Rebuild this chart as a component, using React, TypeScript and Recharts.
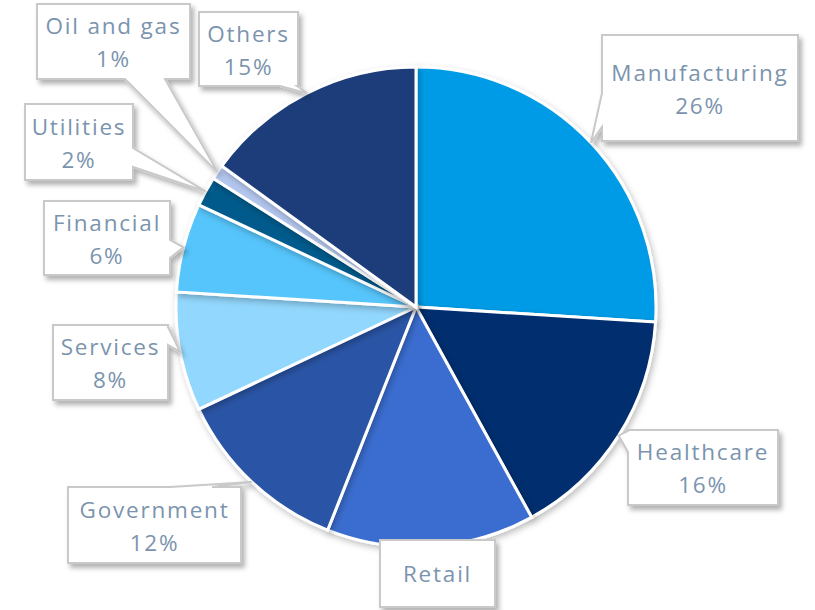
import React from 'react';
import { PieChart, Pie, Cell } from 'recharts';

const industries = ['Manufacturing', 'Healthcare', 'Retail', 'Government', 'Services', 'Financial', 'Utilities', 'Oil and gas', 'Others'];
const shares = [26, 16, 14, 12, 8, 6, 2, 1, 15];
const sliceColors = ['#009be6', '#002e6e', '#3a6dd0', '#2b54a6', '#92d7fd', '#57c5fb', '#035a8b', '#b3c6ee', '#1f3d7a'];

// callout boxes: [x0, y0, x1, y1], side the pointer leaves from, pointer base span on that side
const callouts = [
  { box: [602, 35, 798, 141], side: 'left', base: [93, 127], showValue: true },
  { box: [628, 430, 778, 505], side: 'left', base: [431, 452], showValue: true },
  { box: [380, 540, 495, 607], side: 'none', base: [0, 0], showValue: false },
  { box: [68, 487, 241, 563], side: 'top', base: [170, 212], showValue: true },
  { box: [53, 325, 168, 400], side: 'right', base: [327, 345], showValue: true },
  { box: [44, 201, 170, 275], side: 'right', base: [240, 258], showValue: true },
  { box: [25, 104, 133, 180], side: 'right', base: [148, 167], showValue: true },
  { box: [37, 4, 190, 79], side: 'bottom', base: [125, 165], showValue: true },
  { box: [199, 12, 298, 86], side: 'bottom', base: [280, 297], showValue: true },
];

const data = industries.map((name, i) => ({ name, value: shares[i] }));

const RAD = Math.PI / 180;
const textColor = '#7b94ae';
const labelFont = { fontSize: 22.5, letterSpacing: 1.8 };

function bubblePath(box: number[], side: string, base: number[], tx: number, ty: number) {
  const [x0, y0, x1, y1] = box;
  const [a, b] = base;
  let d = `M${x0},${y0}`;
  if (side === 'top') d += ` L${a},${y0} L${tx},${ty} L${b},${y0}`;
  d += ` L${x1},${y0}`;
  if (side === 'right') d += ` L${x1},${a} L${tx},${ty} L${x1},${b}`;
  d += ` L${x1},${y1}`;
  if (side === 'bottom') d += ` L${b},${y1} L${tx},${ty} L${a},${y1}`;
  d += ` L${x0},${y1}`;
  if (side === 'left') d += ` L${x0},${b} L${tx},${ty} L${x0},${a}`;
  return d + ' Z';
}

const renderCallout = (props: any) => {
  const { cx, cy, midAngle, outerRadius, index, name, value } = props;
  const c = callouts[index];
  const tx = cx + outerRadius * Math.cos(-midAngle * RAD);
  const ty = cy + outerRadius * Math.sin(-midAngle * RAD);
  const [x0, y0, x1, y1] = c.box;
  const mx = (x0 + x1) / 2;
  const my = (y0 + y1) / 2;
  return (
    <g key={`callout-${index}`}>
      <path
        d={bubblePath(c.box, c.side, c.base, tx, ty)}
        fill="#fff"
        stroke="#c9c9c9"
        strokeWidth={2}
        strokeLinejoin="miter"
        filter="url(#boxShadow)"
      />
      {c.showValue ? (
        <>
          <text x={mx} y={my - 16} textAnchor="middle" dominantBaseline="central" fill={textColor} {...labelFont}>
            {name}
          </text>
          <text x={mx} y={my + 17} textAnchor="middle" dominantBaseline="central" fill={textColor} {...labelFont}>
            {`${value}%`}
          </text>
        </>
      ) : (
        <text x={mx} y={my} textAnchor="middle" dominantBaseline="central" fill={textColor} {...labelFont}>
          {name}
        </text>
      )}
    </g>
  );
};

export default function App() {
  return (
    <div style={{ position: 'absolute', left: 0, top: 0, width: 815, height: 610, background: '#fff', fontFamily: "'Open Sans', sans-serif" }}>
      <svg width={0} height={0} style={{ position: 'absolute' }}>
        <defs>
          <filter id="boxShadow" x="-20%" y="-20%" width="150%" height="150%">
            <feDropShadow dx={3} dy={4} stdDeviation={2.5} floodColor="#000" floodOpacity={0.3} />
          </filter>
          <filter id="pieShadow" x="-10%" y="-10%" width="120%" height="120%">
            <feDropShadow dx={2} dy={3} stdDeviation={3} floodColor="#000" floodOpacity={0.25} />
          </filter>
        </defs>
      </svg>
      <PieChart width={815} height={610} margin={{ top: 0, right: 0, bottom: 0, left: 0 }}>
        <Pie
          data={data}
          dataKey="value"
          nameKey="name"
          cx={416}
          cy={307}
          outerRadius={240}
          startAngle={90}
          endAngle={-270}
          stroke="#fff"
          strokeWidth={3}
          label={renderCallout}
          labelLine={false}
          isAnimationActive={false}
          style={{ filter: 'url(#pieShadow)' }}
        >
          {data.map((d, i) => (
            <Cell key={d.name} fill={sliceColors[i]} />
          ))}
        </Pie>
      </PieChart>
    </div>
  );
}
